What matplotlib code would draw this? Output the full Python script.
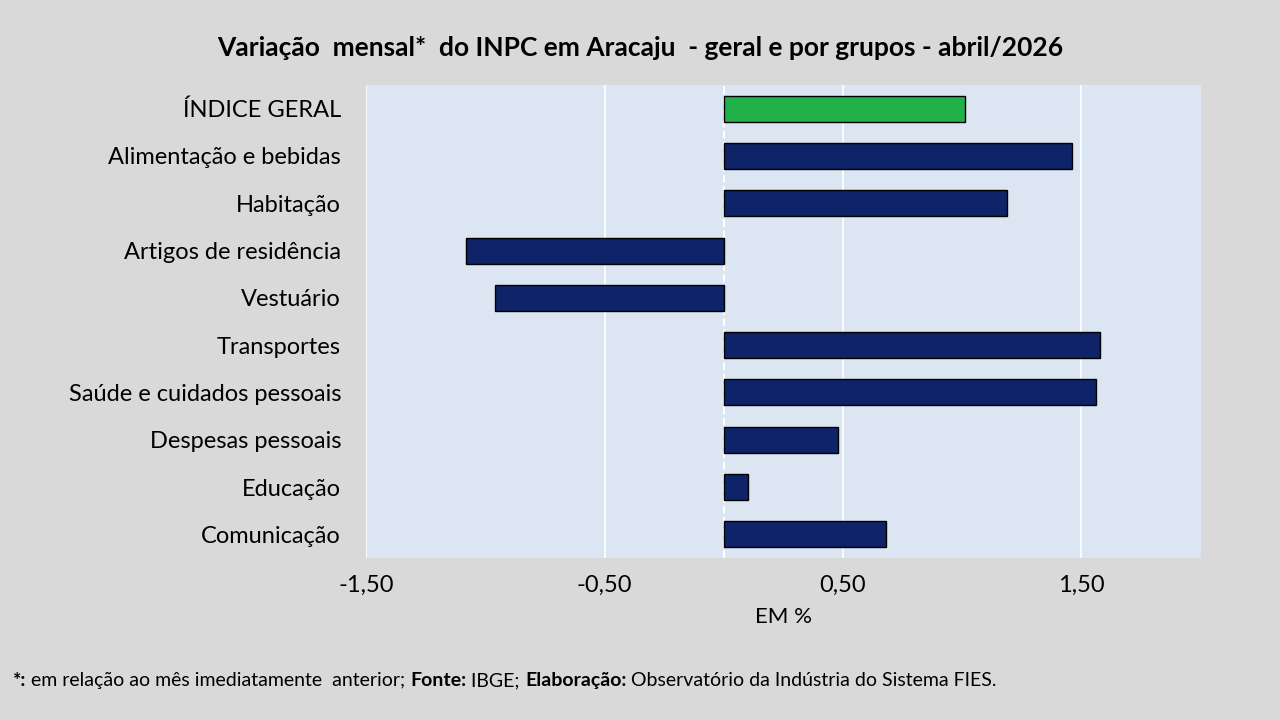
import matplotlib.pyplot as plt
from matplotlib.offsetbox import AnchoredOffsetbox, HPacker, TextArea
import numpy as np

categories = ["ÍNDICE GERAL", "Alimentação e bebidas", "Habitação", "Artigos de residência",
              "Vestuário", "Transportes", "Saúde e cuidados pessoais", "Despesas pessoais",
              "Educação", "Comunicação"]
values = [1.01, 1.46, 1.19, -1.08, -0.96, 1.58, 1.56, 0.48, 0.10, 0.68]
ticks = [-1.5, -0.5, 0.5, 1.5]
tick_labels = ["-1,50", "-0,50", "0,50", "1,50"]

plt.rcParams["font.family"] = ["Lato", "DejaVu Sans"]

fig = plt.figure(figsize=(12.8, 7.2), dpi=100, facecolor="#d9d9d9")
ax = fig.add_axes([0.286, 0.225, 0.652, 0.657], facecolor="#dce6f2")

y = np.arange(len(categories))
colors = ["#22b04b"] + ["#0f2468"] * (len(categories) - 1)
ax.barh(y, values, height=0.55, color=colors, edgecolor="black", linewidth=1, zorder=3)

ax.set_xlim(-1.5, 2.0)
ax.set_ylim(len(categories) - 0.5, -0.5)
ax.set_xticks(ticks)
ax.set_xticklabels(tick_labels, fontsize=17)
ax.set_yticks(y)
ax.set_yticklabels(categories, fontsize=17)
ax.tick_params(length=0, pad=18)
ax.tick_params(axis="x", pad=12)
ax.grid(axis="x", color="white", linewidth=1.2, zorder=0)
ax.axvline(0, color="white", linewidth=1.5, linestyle="--", zorder=2)
for s in ax.spines.values():
    s.set_visible(False)

ax.set_xlabel("EM %", fontsize=16, labelpad=8)
fig.text(0.5, 0.933, "Variação  mensal*  do INPC em Aracaju  - geral e por grupos - abril/2026",
         ha="center", va="center", fontsize=19, fontweight="bold")

# footnote with mixed bold/normal pieces
parts = [("*:", "bold"), (" em relação ao mês imediatamente  anterior; ", "normal"),
         ("Fonte:", "bold"), (" IBGE; ", "normal"), ("Elaboração:", "bold"),
         (" Observatório da Indústria do Sistema FIES.", "normal")]
boxes = [TextArea(t, textprops=dict(fontsize=14, fontweight=w, family=["Lato", "DejaVu Sans"]))
         for t, w in parts]
pack = HPacker(children=boxes, align="baseline", pad=0, sep=0)
anch = AnchoredOffsetbox(loc="center left", child=pack, frameon=False,
                         bbox_to_anchor=(0.01, 0.055), bbox_transform=fig.transFigure,
                         borderpad=0, pad=0)
fig.add_artist(anch)

fig.savefig("out.png", dpi=100, facecolor=fig.get_facecolor())
